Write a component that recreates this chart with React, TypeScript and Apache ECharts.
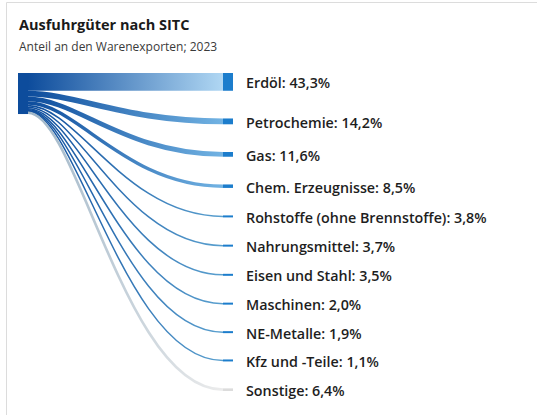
import React, { useEffect, useRef } from "react";
import * as echarts from "echarts";

// ---- data ----
const categories: string[] = [
  "Erdöl",
  "Petrochemie",
  "Gas",
  "Chem. Erzeugnisse",
  "Rohstoffe (ohne Brennstoffe)",
  "Nahrungsmittel",
  "Eisen und Stahl",
  "Maschinen",
  "NE-Metalle",
  "Kfz und -Teile",
  "Sonstige",
];
const shares: number[] = [43.3, 14.2, 11.6, 8.5, 3.8, 3.7, 3.5, 2.0, 1.9, 1.1, 6.4];
const titleText = "Ausfuhrgüter nach SITC";
const subtitleText = "Anteil an den Warenexporten; 2023";
const otherCategory = "Sonstige";

// ---- layout (in share units) ----
const GAP = 67.5;
const total = shares.reduce((a, b) => a + b, 0);
const targetStart: number[] = [];
const sourceStart: number[] = [];
{
  let t = 0;
  let s = 0;
  shares.forEach((v) => {
    targetStart.push(t);
    sourceStart.push(s);
    t += v + GAP;
    s += v;
  });
}
const yMax = total + GAP * (shares.length - 1);

const NODE_W = 10;
const MIN_W = 1.5;
const MIN_NODE_H = 2;
const FONT = "'Open Sans', 'Noto Sans', sans-serif";

const fmt = (v: number) => v.toFixed(1).replace(".", ",") + "%";

function linkEndColor(name: string, v: number) {
  if (name === otherCategory) return "#ececec";
  if (v > 30) return "#b0d7f3";
  if (v > 5) return "#72b3e3";
  return "#5aa0cf";
}
function linkStartColor(name: string) {
  return name === otherCategory ? "#9fb6c8" : "#0d4c9c";
}
function nodeColor(name: string) {
  return name === otherCategory ? "#dcdcdc" : "#1c7dcc";
}

export default function App() {
  const ref = useRef<HTMLDivElement>(null);
  useEffect(() => {
    if (!ref.current) return;
    const chart = echarts.init(ref.current, undefined, { renderer: "svg" });
    const option: any = {
      animation: false,
      backgroundColor: "#ffffff",
      title: {
        text: titleText,
        subtext: subtitleText,
        left: 19,
        top: 17,
        padding: 0,
        itemGap: 8,
        textStyle: { fontSize: 14.5, fontWeight: "bold", color: "#1a1a1a", fontFamily: FONT },
        subtextStyle: { fontSize: 12, color: "#3a3a3a", fontFamily: FONT },
      },
      graphic: [
        {
          type: "rect",
          silent: true,
          shape: { x: 6.5, y: 2.5, width: 600, height: 500 },
          style: { fill: "none", stroke: "#dcdcdc", lineWidth: 1 },
        },
      ],
      grid: { left: 18, width: 215, top: 73, height: 318 },
      xAxis: { type: "value", min: 0, max: 1, show: false },
      yAxis: { type: "value", min: 0, max: yMax, inverse: true, show: false },
      series: [
        {
          type: "custom",
          coordinateSystem: "cartesian2d",
          data: categories.map((_, i) => [i]),
          renderItem: (params: any, api: any) => {
            const i = api.value(0) as number;
            const v = shares[i];
            const name = categories[i];
            const pS0 = api.coord([0, sourceStart[i]]);
            const pS1 = api.coord([0, sourceStart[i] + v]);
            const pT0 = api.coord([1, targetStart[i]]);
            const pT1 = api.coord([1, targetStart[i] + v]);
            const x0 = pS0[0] + NODE_W;
            const x1 = pT0[0] - NODE_W;
            const w = Math.max(pS1[1] - pS0[1], MIN_W);
            const y0 = (pS0[1] + pS1[1]) / 2;
            const y1 = (pT0[1] + pT1[1]) / 2;
            const dx = x1 - x0;
            const nh = Math.max(pT1[1] - pT0[1], MIN_NODE_H);
            return {
              type: "group",
              children: [
                {
                  type: "bezierCurve",
                  shape: {
                    x1: x0,
                    y1: y0,
                    x2: x1,
                    y2: y1,
                    cpx1: x0 + 0.25 * dx,
                    cpy1: y0,
                    cpx2: x1 - 0.5 * dx,
                    cpy2: y1,
                  },
                  style: {
                    fill: "none",
                    lineWidth: w,
                    stroke: new echarts.graphic.LinearGradient(
                      x0, 0, x1, 0,
                      [
                        { offset: 0, color: linkStartColor(name) },
                        { offset: 1, color: linkEndColor(name, v) },
                      ],
                      true
                    ),
                  },
                },
                {
                  type: "rect",
                  shape: { x: x1, y: y1 - nh / 2, width: NODE_W, height: nh },
                  style: { fill: nodeColor(name) },
                },
                {
                  type: "text",
                  style: {
                    x: x1 + NODE_W + 13,
                    y: y1 + 1,
                    text: name + ": " + fmt(v),
                    align: "left",
                    verticalAlign: "middle",
                    fill: "#1e1e1e",
                    fontSize: 14.3,
                    fontWeight: 600,
                    fontFamily: FONT,
                  },
                },
              ],
            };
          },
        },
        {
          type: "custom",
          coordinateSystem: "cartesian2d",
          data: [[0, total]],
          renderItem: (params: any, api: any) => {
            const p0 = api.coord([0, 0]);
            const p1 = api.coord([0, api.value(1)]);
            return {
              type: "rect",
              shape: { x: p0[0], y: p0[1], width: NODE_W, height: p1[1] - p0[1] },
              style: { fill: "#0d4c9c" },
            };
          },
        },
      ],
    };
    chart.setOption(option);
    return () => chart.dispose();
  }, []);
  return (
    <div
      ref={ref}
      style={{ position: "absolute", left: 0, top: 0, width: 537, height: 415 }}
    />
  );
}
